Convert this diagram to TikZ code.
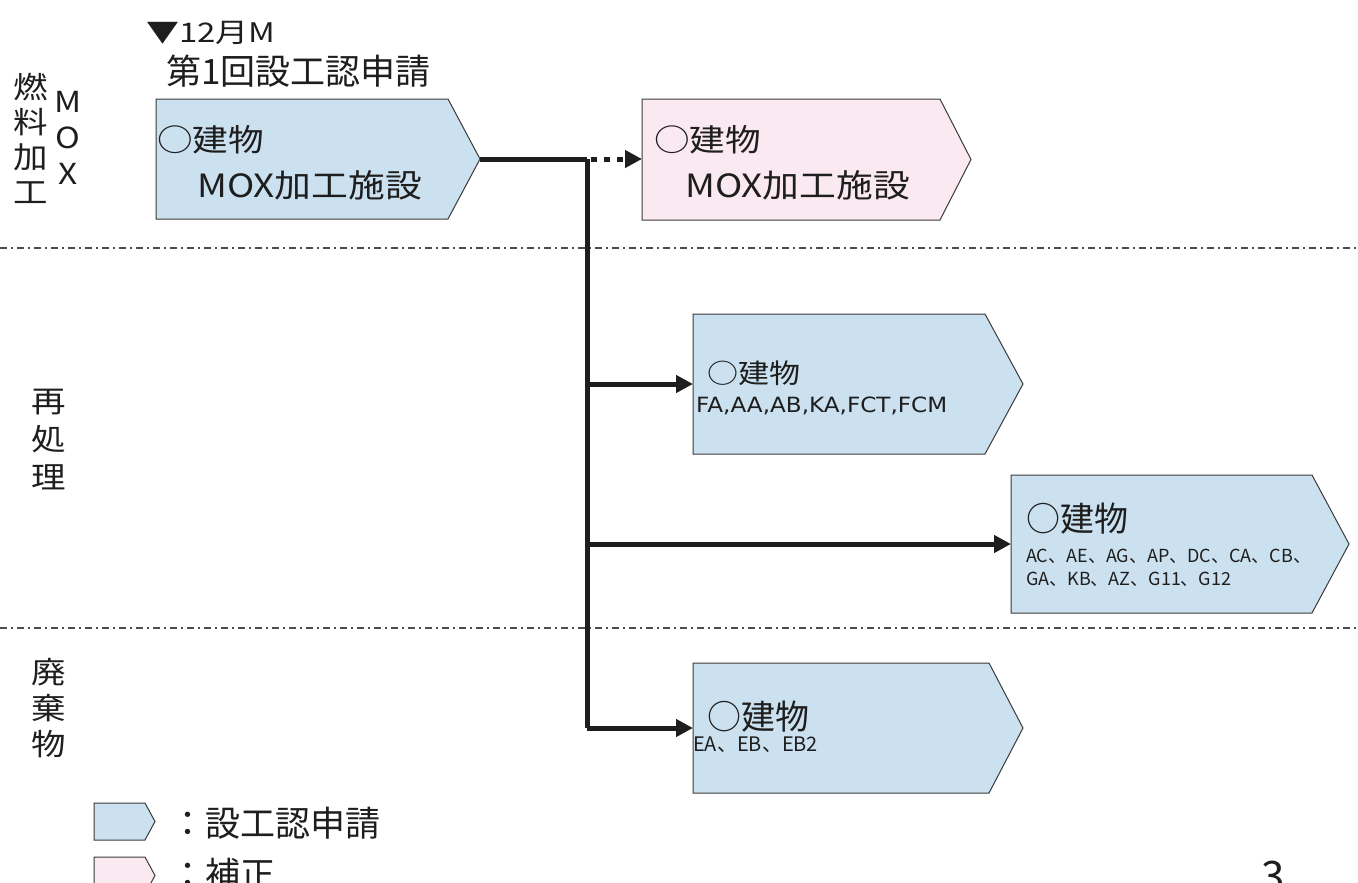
\documentclass[tikz,border=0pt]{standalone}
\usepackage{fontspec}
\setmainfont{Noto Sans CJK JP}
\newfontfamily\jn{Noto Sans CJK JP}
\newfontfamily\jw[FakeStretch=1.15]{Noto Sans CJK JP}
\newfontfamily\jt[FakeStretch=1.22]{Noto Sans CJK JP}
\newfontfamily\dv[FakeStretch=1.1]{DejaVu Sans}
\usetikzlibrary{arrows.meta}
\definecolor{boxblue}{HTML}{CCE1EF}
\definecolor{boxpink}{HTML}{FBE9F1}
\definecolor{edge}{HTML}{3A3A3A}
\definecolor{ink}{HTML}{1E1E1E}
\newcommand\mytag[7]{%
  \draw[#7] (#2,#3) -- (#4,#3) -- (#6,{(#3+#5)/2}) -- (#4,#5) -- (#2,#5) -- cycle;
  \coordinate (#1w) at (#2,{(#3+#5)/2});
  \coordinate (#1e) at (#6,{(#3+#5)/2});}
\tikzset{
  bluebox/.style={fill=boxblue,draw=edge,line width=1pt},
  pinkbox/.style={fill=boxpink,draw=edge,line width=1pt},
  conn/.style={draw=ink,line width=5pt},
  tipped/.style={-{Triangle[length=17pt,width=17pt]}},
  sep/.style={draw=black!70,line width=1.4pt,dash pattern=on 7pt off 4pt on 2pt off 4pt},
  txt/.style={inner sep=0pt,anchor=west,text=ink},
  side/.style={inner sep=0pt,align=center,text=ink},
}
\begin{document}
\begin{tikzpicture}[x=1pt,y=-1pt]
\useasboundingbox (0,0) rectangle (1358,883);
% separators
\coordinate (s1a) at (0,248); \coordinate (s1b) at (1358,248);
\coordinate (s2a) at (0,628); \coordinate (s2b) at (1358,628);
\draw[sep] (s1a) -- (s1b);
\draw[sep] (s2a) -- (s2b);
% boxes
\mytag{b1}{156}{99}{448}{219}{480}{bluebox}
\mytag{b2}{642}{99}{940}{220}{971}{pinkbox}
\mytag{b3}{693}{314}{985}{454}{1023}{bluebox}
\mytag{b4}{1011}{475}{1312}{613}{1349}{bluebox}
\mytag{b5}{693}{663}{989}{793}{1023}{bluebox}
% legend shapes
\mytag{l1}{94}{803}{145}{840}{155}{bluebox}
\mytag{l2}{94}{857}{145}{894}{155}{pinkbox}
% connectors
\coordinate (j1) at (587,159);
\draw[conn] (b1e) -- (j1);
\draw[conn,line join=round] (j1) -- (j1 |- b5w);
\draw[conn,tipped,dash pattern=on 6pt off 7pt,dash phase=-4pt] (j1) -- (j1 -| b2w);
\draw[conn,tipped] (j1 |- b3w) -- (b3w);
\draw[conn,tipped] (j1 |- b4w) -- (b4w);
\draw[conn,tipped,line join=round] (j1 |- b5w) -- (b5w);
% titles
\node[txt,font=\jt\fontsize{27}{30}\selectfont] (t1) at (146,33) {▼12月M};
\node[txt,font=\jn\fontsize{35}{40}\selectfont] (t2) at (166,71) {第1回設工認申請};
% side labels
\node[side,font=\jw\fontsize{30}{35}\selectfont] (lab1) at (31,138) {燃\\料\\加\\工};
\node[side,font=\jw\fontsize{29}{36}\selectfont] (lab2) at (68,138) {M\\O\\X};
\node[side,font=\jw\fontsize{30}{38}\selectfont] (lab3) at (49,440) {再\\処\\理};
\node[side,font=\jw\fontsize{30}{36}\selectfont] (lab4) at (49,708) {廃\\棄\\物};
% box texts
\node[txt,font=\jw\fontsize{31}{34}\selectfont] (b1a) at (157,140) {○建物};
\node[txt,font=\jw\fontsize{32}{34}\selectfont] (b1b) at (197,185) {MOX加工施設};
\node[txt,font=\jw\fontsize{31}{34}\selectfont] (b2a) at (654,140) {○建物};
\node[txt,font=\jw\fontsize{32}{34}\selectfont] (b2b) at (685,185) {MOX加工施設};
\node[txt,font=\jw\fontsize{27}{30}\selectfont] (b3a) at (707,373) {○建物};
\node[txt,font=\dv\fontsize{21}{25}\selectfont] (b3b) at (696,406) {FA,AA,AB,KA,FCT,FCM};
\node[txt,font=\jn\fontsize{34}{38}\selectfont] (b4a) at (1026,519) {○建物};
\node[txt,font=\jn\fontsize{18}{22}\selectfont] (b4b) at (1026,556) {AC、AE、AG、AP、DC、CA、CB、};
\node[txt,font=\jn\fontsize{18}{22}\selectfont] (b4c) at (1026,579) {GA、KB、AZ、G11、G12};
\node[txt,font=\jn\fontsize{34}{38}\selectfont] (b5a) at (707,717) {○建物};
\node[txt,font=\jn\fontsize{20}{23}\selectfont] (b5b) at (693,745) {EA、EB、EB2};
% legend texts
\node[txt,font=\jn\fontsize{35}{40}\selectfont] (lt1) at (170,823) {：設工認申請};
\node[txt,font=\jn\fontsize{35}{40}\selectfont] (lt2) at (170,874) {：補正};
% page number
\node[inner sep=0pt,anchor=base west,text=ink,font=\jn\fontsize{42}{46}\selectfont] (pg) at (1261,891) {3};
\end{tikzpicture}
\end{document}
